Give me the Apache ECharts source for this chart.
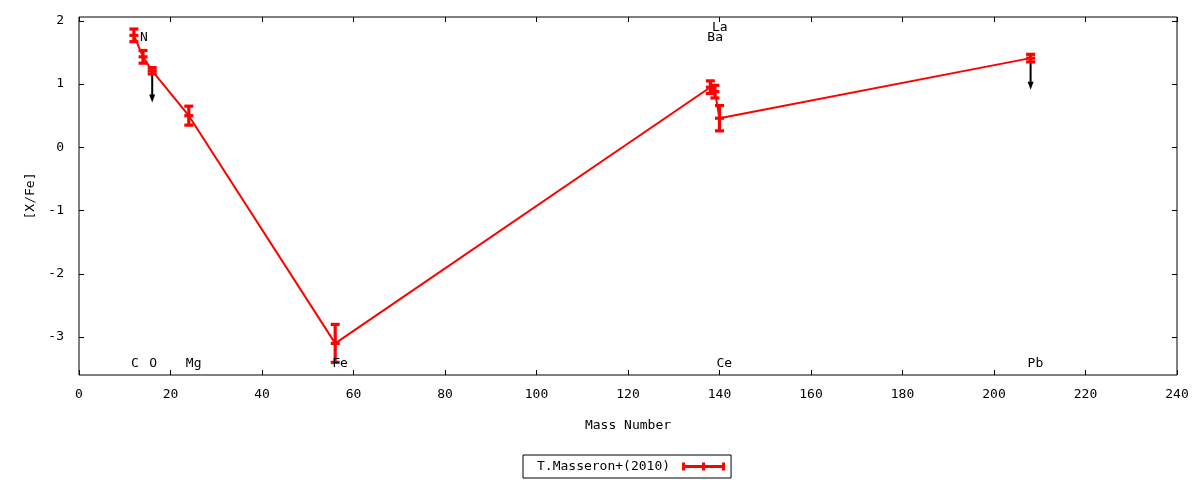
<!DOCTYPE html>
<html><head><meta charset="utf-8">
<script src="https://cdn.jsdelivr.net/npm/echarts@6/dist/echarts.min.js"></script>
<style>html,body{margin:0;padding:0;background:#fff}#c{width:1200px;height:480px}</style>
</head><body><div id="c"></div>
<script>
const elements = ['C','N','O','Mg','Fe','Ba','La','Ce','Pb'];
const massNumber = [12,14,16,24,56,138,139,140,208];
const xFe = [1.77,1.43,1.21,0.50,-3.10,0.95,0.88,0.46,1.41];
const xFeErr = [0.10,0.10,0.05,0.15,0.30,0.10,0.10,0.20,0.06];
const upperLimit = [0,0,1,0,0,0,0,0,1];
const labelY = [-3.42,1.73,-3.42,-3.42,-3.42,1.73,1.89,-3.42,-3.42];
const xTicks = [0,20,40,60,80,100,120,140,160,180,200,220,240];
const yTicks = [-3,-2,-1,0,1,2];
const seriesName = 'T.Masseron+(2010)';
const arrowLength = 0.5;

const FONT = '"DejaVu Sans Mono", monospace';
const RED = '#ff0000';

const chart = echarts.init(document.getElementById('c'));

const errData = massNumber.map((m,i)=>[m, xFe[i], xFeErr[i], upperLimit[i]]);
const lineData = massNumber.map((m,i)=>[m, xFe[i]]);
const labelData = massNumber.map((m,i)=>[m, labelY[i], i]);

function renderErr(params, api){
  const x = api.value(0), y = api.value(1), e = api.value(2), up = api.value(3);
  const p = api.coord([x,y]);
  const t = api.coord([x,y+e]);
  const b = api.coord([x,y-e]);
  const cw = 4.5;
  const ls = {stroke: RED, lineWidth: 3.2};
  const ch = [];
  if (up) {
    const end = api.coord([x, y-arrowLength]);
    ch.push({type:'line', shape:{x1:p[0],y1:p[1],x2:end[0],y2:end[1]-6}, style:{stroke:'#000', lineWidth:2}});
    ch.push({type:'polygon', shape:{points:[[end[0]-3,end[1]-8],[end[0]+3,end[1]-8],[end[0],end[1]]]}, style:{fill:'#000'}});
  }
  ch.push({type:'line', shape:{x1:t[0],y1:t[1],x2:b[0],y2:b[1]}, style:ls});
  ch.push({type:'line', shape:{x1:t[0]-cw,y1:t[1],x2:t[0]+cw,y2:t[1]}, style:ls});
  ch.push({type:'line', shape:{x1:b[0]-cw,y1:b[1],x2:b[0]+cw,y2:b[1]}, style:ls});
  ch.push({type:'line', shape:{x1:p[0]-cw,y1:p[1],x2:p[0]+cw,y2:p[1]}, style:ls});
  return {type:'group', children: ch};
}

function renderLabel(params, api){
  const pt = api.coord([api.value(0), api.value(1)]);
  const i = api.value(2);
  return {type:'text', x: pt[0]-3, y: pt[1], style:{text: elements[i], fill:'#000', font: '13px ' + FONT, align:'left', verticalAlign:'middle'}};
}

const tickStyle = (vals) => ({show:true, inside:true, length:5, lineStyle:{color:'#000', width:1}, customValues: vals});
const axisCommon = {
  type:'value',
  axisLine:{show:false, onZero:false},
  splitLine:{show:false},
};

chart.setOption({
  animation:false,
  backgroundColor:'#fff',
  textStyle:{fontFamily: FONT},
  grid:{left:79, right:23, top:17, bottom:105, show:true, borderColor:'#000', borderWidth:1, backgroundColor:'transparent'},
  legend:{
    left:523, top:455,
    orient:'horizontal',
    align:'right',
    padding:[5,6,5,14],
    borderColor:'#000', borderWidth:1, borderRadius:0,
    itemWidth:43, itemHeight:10,
    textStyle:{fontFamily:FONT, fontSize:13, color:'#000', padding:[0,7,0,0]},
    data:[{name:seriesName, icon:'path://M0,3.5H43V6.5H0Z M0,1H3V9H0Z M20,1H23V9H20Z M40,1H43V9H40Z', itemStyle:{color:RED}}]
  },
  xAxis:[
    Object.assign({}, axisCommon, {
      position:'bottom', min:0, max:240, interval:20,
      name:'Mass Number', nameLocation:'middle', nameGap:44,
      nameTextStyle:{fontFamily:FONT, fontSize:13, color:'#000'},
      axisLabel:{fontFamily:FONT, fontSize:13, color:'#000', margin:13, customValues: xTicks},
      axisTick: tickStyle(xTicks)
    }),
    Object.assign({}, axisCommon, {
      position:'top', min:0, max:240, interval:20,
      axisLabel:{show:false},
      axisTick: tickStyle(xTicks)
    })
  ],
  yAxis:[
    Object.assign({}, axisCommon, {
      position:'left', min:-3.6, max:2.06,
      name:'[X/Fe]', nameLocation:'middle', nameGap:40, nameRotate:90,
      nameTextStyle:{fontFamily:FONT, fontSize:13, color:'#000'},
      axisLabel:{fontFamily:FONT, fontSize:13, color:'#000', margin:15, customValues: yTicks},
      axisTick: tickStyle(yTicks)
    }),
    Object.assign({}, axisCommon, {
      position:'right', min:-3.6, max:2.06,
      axisLabel:{show:false},
      axisTick: tickStyle(yTicks)
    })
  ],
  series:[
    {name:seriesName, type:'line', data:lineData, symbol:'none', lineStyle:{color:RED, width:2}, itemStyle:{color:RED}, z:2, silent:true},
    {name:seriesName, type:'custom', data:errData, renderItem:renderErr, itemStyle:{color:RED}, z:3, silent:true, clip:false},
    {name:'labels', type:'custom', data:labelData, renderItem:renderLabel, z:4, silent:true, clip:false}
  ]
});
</script></body></html>
